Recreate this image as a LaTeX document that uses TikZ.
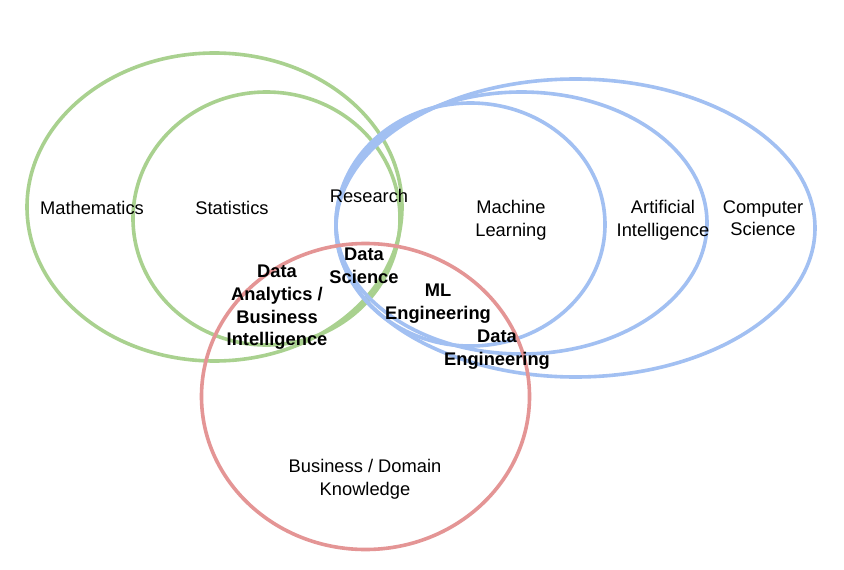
\documentclass[tikz,border=0pt]{standalone}
\usepackage{fontspec}
\setmainfont{Liberation Sans}
\definecolor{vgreen}{HTML}{A9D18F}
\definecolor{vblue}{HTML}{A2C0F2}
\definecolor{vred}{HTML}{E49595}
\tikzset{
  ring/.style={line width=3.6pt},
  lbl/.style={font=\fontsize{18.3}{22.6}\selectfont, align=center, inner sep=0pt, text=black},
  blbl/.style={lbl, font=\fontsize{18.3}{22.6}\selectfont\bfseries}
}
\begin{document}
\begin{tikzpicture}[x=1pt,y=-1pt]
\useasboundingbox[fill=white] (0,0) rectangle (844,570);
% green
\draw[ring, vgreen] (214.5,207) ellipse [x radius=187.5pt, y radius=154pt];
\draw[ring, vgreen] (266.5,218.5) ellipse [x radius=133.5pt, y radius=126.5pt];
% blue
\draw[ring, vblue] (575.5,228) ellipse [x radius=239.5pt, y radius=149pt];
\draw[ring, vblue] (521.5,223) ellipse [x radius=185.5pt, y radius=131pt];
\draw[ring, vblue] (470.5,224.5) ellipse [x radius=134.5pt, y radius=121.5pt];
% red
\draw[ring, vred] (365.5,396.5) ellipse [x radius=164pt, y radius=153pt];
% labels
\node[lbl] (math) at (92,207.5) {Mathematics};
\node[lbl] (stat) at (232,207.5) {Statistics};
\node[lbl] (res) at (369,195.5) {Research};
\node[lbl] (ml) at (511,220) {Machine\\Learning};
\node[lbl] (ai) at (663,220) {Artificial\\Intelligence};
\node[lbl] (cs) at (763,218) {Computer\\Science};
\node[blbl] (ds) at (364,265.5) {Data\\Science};
\node[blbl] (mle) at (438,303.5) {ML\\Engineering};
\node[blbl] (de) at (497,349.5) {Data\\Engineering};
\node[blbl] (da) at (277,307.5) {Data\\Analytics /\\Business\\Intelligence};
\node[lbl] (biz) at (365,479.5) {Business / Domain\\Knowledge};
\end{tikzpicture}
\end{document}
